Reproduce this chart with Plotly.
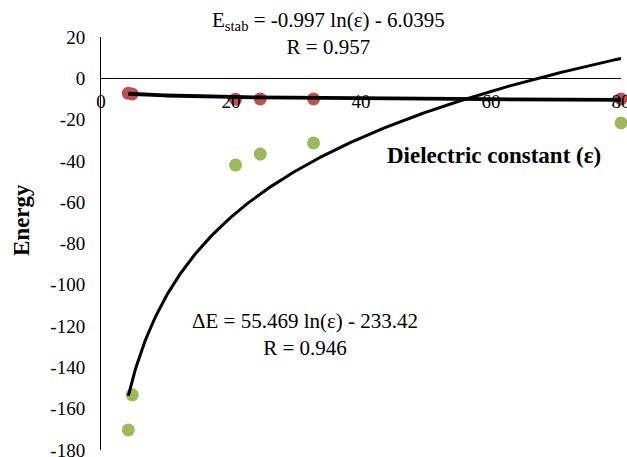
import numpy as np
import plotly.graph_objects as go

# Data
eps = [4.2, 4.8, 20.7, 24.5, 32.7, 80.0]
e_stab = [-7.3, -7.6, -10.1, -10.0, -10.0, -10.0]
delta_e = [-170.3, -153.3, -42.0, -36.7, -31.3, -21.6]

# Logarithmic trendline coefficients (from the chart's equations)
stab_a, stab_b = -0.997, -6.0395
de_a, de_b = 55.469, -233.42

x_ticks = [0, 20, 40, 60, 80]
x_tick_text = ["0", "20", "40", "60", "80"]
y_ticks = [20, 0, -20, -40, -60, -80, -100, -120, -140, -160, -180]
y_tick_text = ["20", "0", "-20", "-40", "-60", "-80", "-100", "-120", "-140", "-160", "-180"]

xf = np.linspace(min(eps), max(eps), 300)
stab_fit = stab_a * np.log(xf) + stab_b
de_fit = de_a * np.log(xf) + de_b

FONT = "Liberation Serif"
RED = "#C0504D"
GREEN = "#9BBB59"

L, R, T, B = 101, 6, 37, 7
PW, PH = 627 - L - R, 457 - T - B


def px_x(p):
    return (p - L) / PW


def px_y(p):
    return 1 - (p - T) / PH


fig = go.Figure()
fig.add_trace(go.Scatter(x=eps, y=e_stab, mode="markers",
                         marker=dict(color=RED, size=13, line=dict(width=0)),
                         showlegend=False, hoverinfo="skip", cliponaxis=False))
fig.add_trace(go.Scatter(x=eps, y=delta_e, mode="markers",
                         marker=dict(color=GREEN, size=13, line=dict(width=0)),
                         showlegend=False, hoverinfo="skip", cliponaxis=False))
fig.add_trace(go.Scatter(x=xf, y=stab_fit, mode="lines",
                         line=dict(color="black", width=3.8),
                         showlegend=False, hoverinfo="skip"))
fig.add_trace(go.Scatter(x=xf, y=de_fit, mode="lines",
                         line=dict(color="black", width=3),
                         showlegend=False, hoverinfo="skip"))

fig.update_layout(
    width=627, height=457,
    margin=dict(l=L, r=R, t=T, b=B, autoexpand=False),
    paper_bgcolor="white", plot_bgcolor="white",
    font=dict(family=FONT, size=19, color="black"),
    xaxis=dict(range=[0, 80], tickvals=x_ticks, ticktext=x_tick_text,
               showgrid=False, zeroline=False, automargin=False,
               showline=True, linecolor="black", linewidth=1,
               anchor="free", position=0.9, side="bottom",
               ticks="", ticklabelstandoff=6, ticklabeloverflow="allow",
               tickfont=dict(family=FONT, size=19, color="black")),
    yaxis=dict(range=[-180, 20], tickvals=y_ticks, ticktext=y_tick_text,
               showgrid=False, zeroline=False, automargin=False,
               showline=True, linecolor="black", linewidth=1,
               ticks="", ticklabelstandoff=11, ticklabeloverflow="allow",
               tickfont=dict(family=FONT, size=19, color="black")),
    annotations=[
        dict(text="E<sub>stab</sub> = -0.997 ln(ε) - 6.0395<br>R = 0.957",
             xref="paper", yref="paper", x=px_x(328), y=px_y(34),
             xanchor="center", yanchor="middle", showarrow=False, align="center",
             font=dict(family=FONT, size=21, color="black")),
        dict(text="ΔE = 55.469 ln(ε) - 233.42<br>R = 0.946",
             xref="paper", yref="paper", x=px_x(305), y=px_y(334),
             xanchor="center", yanchor="middle", showarrow=False, align="center",
             font=dict(family=FONT, size=21, color="black")),
        dict(text="<b>Dielectric constant (ε)</b>",
             xref="paper", yref="paper", x=px_x(494), y=px_y(155),
             xanchor="center", yanchor="middle", showarrow=False,
             font=dict(family=FONT, size=23, color="black")),
        dict(text="<b>Energy</b>",
             xref="paper", yref="paper", x=px_x(22), y=px_y(220),
             xanchor="center", yanchor="middle", showarrow=False, textangle=-90,
             font=dict(family=FONT, size=23, color="black")),
    ],
)

fig.write_html("out.html",
               config={"displayModeBar": False},
               post_script="document.body.style.margin='0';document.body.style.overflow='hidden';")
